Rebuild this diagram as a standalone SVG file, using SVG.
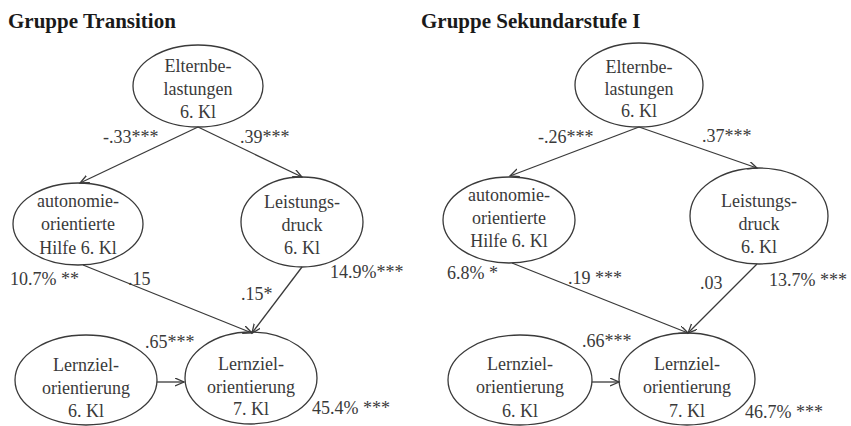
<svg xmlns="http://www.w3.org/2000/svg" width="851" height="426" viewBox="0 0 851 426">
<defs>
<style>
.n{fill:none;stroke:#3a3a3a;stroke-width:1.3}
.t{font-family:"Liberation Serif","Times New Roman",serif;font-size:18px;fill:#3a3a3a;text-anchor:middle}
.l{font-family:"Liberation Serif","Times New Roman",serif;font-size:18px;fill:#3a3a3a}
.h{font-family:"Liberation Serif","Times New Roman",serif;font-size:21px;font-weight:bold;fill:#1a1a1a}
.c{fill:none;stroke:#3a3a3a;stroke-width:1.3;marker-end:url(#arr)}
</style>
<marker id="arr" markerUnits="userSpaceOnUse" markerWidth="12" markerHeight="10" refX="9" refY="4" orient="auto">
<path d="M0,0 L9,4 L0,8" fill="none" stroke="#3a3a3a" stroke-width="1.3"/>
</marker>
</defs>
<rect width="851" height="426" fill="#ffffff"/>
<text class="h" x="8" y="28">Gruppe Transition</text>
<text class="h" x="421" y="28">Gruppe Sekundarstufe I</text>

<g id="connectors">
<line class="c" x1="198" y1="127" x2="80" y2="183"/>
<line class="c" x1="198" y1="127" x2="302" y2="177"/>
<line class="c" x1="83" y1="265" x2="252" y2="333"/>
<line class="c" x1="302" y1="267" x2="252" y2="333"/>
<line class="c" x1="157" y1="382" x2="184" y2="382"/>
<line class="c" x1="639" y1="127" x2="510" y2="176"/>
<line class="c" x1="639" y1="127" x2="757" y2="168"/>
<line class="c" x1="512" y1="263" x2="688" y2="333"/>
<line class="c" x1="757" y1="264" x2="688" y2="333"/>
<line class="c" x1="592" y1="382" x2="619" y2="382"/>
</g>

<g id="labels">
<text class="l" x="103" y="143">-.33***</text>
<text class="l" x="240" y="143">.39***</text>
<text class="l" x="10" y="285">10.7% **</text>
<text class="l" x="128" y="285">.15</text>
<text class="l" x="330" y="278">14.9%***</text>
<text class="l" x="241" y="300">.15*</text>
<text class="l" x="145" y="348">.65***</text>
<text class="l" x="312" y="414">45.4% ***</text>
<text class="l" x="538" y="143">-.26***</text>
<text class="l" x="702" y="142">.37***</text>
<text class="l" x="447" y="279">6.8% *</text>
<text class="l" x="568" y="284">.19 ***</text>
<text class="l" x="700" y="289">.03</text>
<text class="l" x="769" y="286">13.7% ***</text>
<text class="l" x="582" y="347">.66***</text>
<text class="l" x="745" y="418">46.7% ***</text>
</g>

<g id="t-eltern">
<ellipse class="n" cx="198" cy="86" rx="65" ry="41"/>
<text class="t" x="198" y="72">Elternbe-</text>
<text class="t" x="198" y="95">lastungen</text>
<text class="t" x="198" y="118">6. Kl</text>
</g>
<g id="t-autonomie">
<ellipse class="n" cx="78" cy="224" rx="65" ry="41"/>
<text class="t" x="78" y="207">autonomie-</text>
<text class="t" x="78" y="230">orientierte</text>
<text class="t" x="78" y="254">Hilfe 6. Kl</text>
</g>
<g id="t-leistung">
<ellipse class="n" cx="302" cy="222" rx="61" ry="45"/>
<text class="t" x="302" y="208">Leistungs-</text>
<text class="t" x="302" y="231">druck</text>
<text class="t" x="302" y="254">6. Kl</text>
</g>
<g id="t-lz6">
<ellipse class="n" cx="86" cy="380" rx="71" ry="45"/>
<text class="t" x="86" y="371">Lernziel-</text>
<text class="t" x="86" y="394">orientierung</text>
<text class="t" x="86" y="417">6. Kl</text>
</g>
<g id="t-lz7">
<ellipse class="n" cx="251" cy="378" rx="66" ry="46"/>
<text class="t" x="251" y="370">Lernziel-</text>
<text class="t" x="251" y="393">orientierung</text>
<text class="t" x="251" y="415">7. Kl</text>
</g>

<g id="s-eltern">
<ellipse class="n" cx="639" cy="85" rx="64" ry="42"/>
<text class="t" x="639" y="73">Elternbe-</text>
<text class="t" x="639" y="95">lastungen</text>
<text class="t" x="639" y="117">6. Kl</text>
</g>
<g id="s-autonomie">
<ellipse class="n" cx="509" cy="220" rx="66" ry="43"/>
<text class="t" x="509" y="201">autonomie-</text>
<text class="t" x="509" y="224">orientierte</text>
<text class="t" x="509" y="247">Hilfe 6. Kl</text>
</g>
<g id="s-leistung">
<ellipse class="n" cx="759" cy="216" rx="69" ry="48"/>
<text class="t" x="759" y="207">Leistungs-</text>
<text class="t" x="759" y="230">druck</text>
<text class="t" x="759" y="253">6. Kl</text>
</g>
<g id="s-lz6">
<ellipse class="n" cx="520" cy="380" rx="72" ry="45"/>
<text class="t" x="520" y="370">Lernziel-</text>
<text class="t" x="520" y="393">orientierung</text>
<text class="t" x="520" y="417">6. Kl</text>
</g>
<g id="s-lz7">
<ellipse class="n" cx="687" cy="379" rx="68" ry="46"/>
<text class="t" x="687" y="370">Lernziel-</text>
<text class="t" x="687" y="393">orientierung</text>
<text class="t" x="687" y="417">7. Kl</text>
</g>
</svg>
